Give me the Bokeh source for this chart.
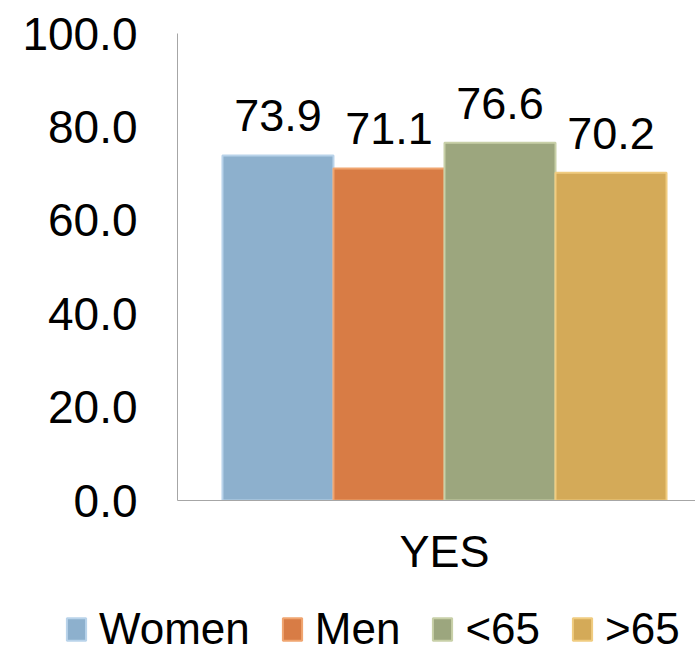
from bokeh.plotting import figure
from bokeh.layouts import column
from bokeh.models import (ColumnDataSource, Legend, LegendItem, FixedTicker,
                          NumeralTickFormatter, LabelSet, Range1d)
from bokeh.core.properties import value
from bokeh.embed import file_html
from bokeh.resources import INLINE

# ---- data ----
group_label = ["YES"]
series = ["Women", "Men", "<65", ">65"]
values = [73.9, 71.1, 76.6, 70.2]
y_ticks = [0, 20, 40, 60, 80, 100]

colors = ["#8DB0CD", "#D87C45", "#9CA67E", "#D4AA58"]
edges = ["#B9D3EA", "#F0A570", "#C8D0A8", "#F0CC80"]

FONT = "Liberation Sans"

src = ColumnDataSource(dict(
    x=list(range(len(series))),
    value=values,
    label=[f"{v:.1f}" for v in values],
    color=colors,
    edge=edges,
))

p = figure(width=695, height=600, output_backend="svg", toolbar_location=None,
           x_range=Range1d(-0.905, 3.761), y_range=Range1d(0, 100),
           min_border_left=177, min_border_right=0, min_border_top=33,
           min_border_bottom=100, outline_line_color=None, frame_align=False)
p.background_fill_color = "white"
p.border_fill_color = "white"
p.xgrid.visible = False
p.ygrid.visible = False

r = p.vbar(x="x", top="value", width=1.0, bottom=0, source=src,
           fill_color="color", line_color="edge", line_width=2)

labels = LabelSet(x="x", y="value", text="label", source=src,
                  text_align="center", text_baseline="bottom", y_offset=24,
                  text_font=value(FONT), text_font_size=value("45px"),
                  text_color=value("black"))
p.add_layout(labels)

# y axis
p.yaxis.ticker = FixedTicker(ticks=y_ticks)
p.yaxis.formatter = NumeralTickFormatter(format="0.0")
p.yaxis.major_label_text_font = FONT
p.yaxis.major_label_text_font_size = "46px"
p.yaxis.major_label_text_color = "black"
p.yaxis.major_tick_line_color = None
p.yaxis.minor_tick_line_color = None
p.yaxis.major_tick_out = 0
p.yaxis.major_label_standoff = 40
p.yaxis.axis_line_color = "#A6A6A6"

# x axis
p.xaxis.ticker = FixedTicker(ticks=[1.5])
p.xaxis.major_label_overrides = {1.5: group_label[0]}
p.xaxis.major_label_text_font = FONT
p.xaxis.major_label_text_font_size = "45px"
p.xaxis.major_label_text_color = "black"
p.xaxis.major_tick_line_color = None
p.xaxis.minor_tick_line_color = None
p.xaxis.major_tick_out = 0
p.xaxis.major_label_standoff = 25
p.xaxis.axis_line_color = "#A6A6A6"

# ---- legend strip ----
lf = figure(width=695, height=54, output_backend="svg", toolbar_location=None,
            x_range=Range1d(0, 1), y_range=Range1d(0, 1),
            x_axis_location=None, y_axis_location=None,
            min_border_left=0, min_border_right=0, min_border_top=0,
            min_border_bottom=0, outline_line_color=None, frame_align=False)
lf.xgrid.visible = False
lf.ygrid.visible = False
lr = lf.vbar(x="x", top="value", width=1.0, bottom=0, source=src,
             fill_color="color", line_color="edge", line_width=2)
lr.visible = False

legend = Legend(
    items=[LegendItem(label=s, renderers=[lr], index=i) for i, s in enumerate(series)],
    orientation="horizontal", location=(64, 0),
    label_text_font=FONT, label_text_font_size="44px", label_text_color="black",
    glyph_width=24, glyph_height=28, label_standoff=11, spacing=30,
    padding=0, margin=0, border_line_color=None, background_fill_alpha=0,
)
lf.add_layout(legend, "center")

open("out.html", "w").write(file_html(column(p, lf), INLINE))
